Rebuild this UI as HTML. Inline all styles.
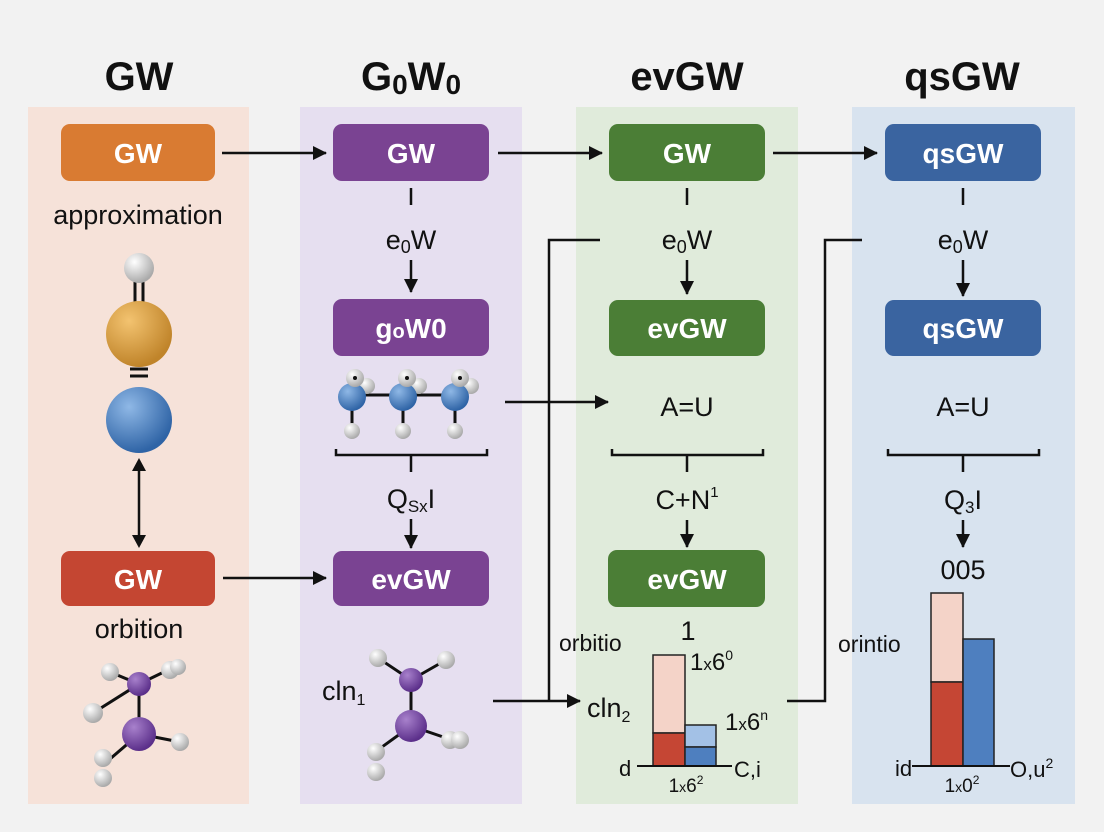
<!DOCTYPE html>
<html><head><meta charset="utf-8"><style>
body{margin:0;background:#f2f2f2}
svg{display:block;font-family:"Liberation Sans","DejaVu Sans",sans-serif}
.t{font-weight:bold;font-size:40px;fill:#111;text-anchor:middle}
.b{font-weight:bold;font-size:28px;fill:#fff;text-anchor:middle}
.l{font-size:27px;fill:#111;text-anchor:middle}
.s{font-size:22px;fill:#111}
</style></head><body>
<svg width="1104" height="832" viewBox="0 0 1104 832">
<defs>
<marker id="a" markerWidth="10" markerHeight="10" refX="9" refY="5" orient="auto" markerUnits="userSpaceOnUse"><path d="M0,0 L10,5 L0,10z" fill="#111"/><path d="M0,0 L0,0" /></marker>
<marker id="a2" markerWidth="14" markerHeight="14" refX="13" refY="7" orient="auto" markerUnits="userSpaceOnUse"><path d="M0,0 L14,7 L0,14z" fill="#111"/></marker>
<radialGradient id="gw" cx="35%" cy="30%" r="70%"><stop offset="0" stop-color="#fff"/><stop offset="1" stop-color="#aaa"/></radialGradient>
<radialGradient id="go" cx="35%" cy="30%" r="70%"><stop offset="0" stop-color="#f3c370"/><stop offset="1" stop-color="#c0842a"/></radialGradient>
<radialGradient id="gb" cx="35%" cy="30%" r="70%"><stop offset="0" stop-color="#8fb8e6"/><stop offset="1" stop-color="#2f64a6"/></radialGradient>
<radialGradient id="gp" cx="35%" cy="30%" r="70%"><stop offset="0" stop-color="#a881cc"/><stop offset="1" stop-color="#5b2f8a"/></radialGradient>
</defs>
<rect x="28" y="107" width="221" height="697" fill="#f6e2d9"/>
<rect x="300" y="107" width="222" height="697" fill="#e6dff0"/>
<rect x="576" y="107" width="222" height="697" fill="#e0ebdb"/>
<rect x="852" y="107" width="223" height="697" fill="#d8e3ef"/>
<text class="t" x="139" y="90">GW</text>
<text class="t" x="411" y="90">G<tspan font-size="28" dy="4">0</tspan><tspan dy="-4">W</tspan><tspan font-size="28" dy="4">0</tspan></text>
<text class="t" x="687" y="90">evGW</text>
<text class="t" x="962" y="90">qsGW</text>
<!-- top boxes -->
<rect x="61" y="124" width="154" height="57" rx="9" fill="#d97b32"/><text class="b" x="138" y="163">GW</text>
<rect x="333" y="124" width="156" height="57" rx="9" fill="#7a4392"/><text class="b" x="411" y="163">GW</text>
<rect x="609" y="124" width="156" height="57" rx="9" fill="#4b7e36"/><text class="b" x="687" y="163">GW</text>
<rect x="885" y="124" width="156" height="57" rx="9" fill="#3a64a0"/><text class="b" x="963" y="163">qsGW</text>
<g stroke="#111" stroke-width="2.5" fill="none">
<line x1="222" y1="153" x2="326" y2="153" marker-end="url(#a2)"/>
<line x1="498" y1="153" x2="602" y2="153" marker-end="url(#a2)"/>
<line x1="773" y1="153" x2="877" y2="153" marker-end="url(#a2)"/>
</g>
<text class="l" x="138" y="224">approximation</text>
<!-- col2 flow -->
<g stroke="#111" stroke-width="2.5" fill="none">
<line x1="411" y1="188" x2="411" y2="205"/><line x1="687" y1="188" x2="687" y2="205"/><line x1="963" y1="188" x2="963" y2="205"/>
<line x1="411" y1="260" x2="411" y2="292" marker-end="url(#a2)"/>
<line x1="687" y1="260" x2="687" y2="294" marker-end="url(#a2)"/>
<line x1="963" y1="260" x2="963" y2="296" marker-end="url(#a2)"/>
<path d="M336,449 v6 h151 v-6 M411,455 v17"/>
<path d="M612,449 v6 h151 v-6 M687,455 v17"/>
<path d="M888,449 v6 h151 v-6 M963,455 v17"/>
<line x1="411" y1="519" x2="411" y2="548" marker-end="url(#a2)"/>
<line x1="687" y1="520" x2="687" y2="547" marker-end="url(#a2)"/>
<line x1="963" y1="520" x2="963" y2="547" marker-end="url(#a2)"/>
<line x1="505" y1="402" x2="608" y2="402" marker-end="url(#a2)"/>
<line x1="223" y1="578" x2="326" y2="578" marker-end="url(#a2)"/>
<path d="M600,240 H549 V701"/>
<line x1="493" y1="701" x2="580" y2="701" marker-end="url(#a2)"/>
<path d="M862,240 H825 V701 H787"/>
<line x1="139" y1="467" x2="139" y2="545"/>
</g>
<path d="M139,458 l-7,13 h14z M139,548 l-7,-13 h14z" fill="#111"/>
<text class="l" x="411" y="249">e<tspan font-size="18" dy="4">0</tspan><tspan dy="-4">W</tspan></text>
<text class="l" x="687" y="249">e<tspan font-size="18" dy="4">0</tspan><tspan dy="-4">W</tspan></text>
<text class="l" x="963" y="249">e<tspan font-size="18" dy="4">0</tspan><tspan dy="-4">W</tspan></text>
<rect x="333" y="299" width="156" height="57" rx="9" fill="#7a4392"/><text class="b" x="411" y="338">g<tspan font-size="20">o</tspan>W0</text>
<rect x="609" y="300" width="156" height="56" rx="9" fill="#4b7e36"/><text class="b" x="687" y="338">evGW</text>
<rect x="885" y="300" width="156" height="56" rx="9" fill="#3a64a0"/><text class="b" x="963" y="338">qsGW</text>
<text class="l" x="687" y="416">A=U</text>
<text class="l" x="963" y="416">A=U</text>
<text class="l" x="411" y="508">Q<tspan font-size="17" dy="4">Sx</tspan><tspan dy="-4">I</tspan></text>
<text class="l" x="687" y="509">C+N<tspan font-size="15" dy="-12">1</tspan></text>
<text class="l" x="963" y="509">Q<tspan font-size="17" dy="4">3</tspan><tspan dy="-4">I</tspan></text>
<rect x="61" y="551" width="154" height="55" rx="9" fill="#c44632"/><text class="b" x="138" y="589">GW</text>
<rect x="333" y="551" width="156" height="55" rx="9" fill="#7a4392"/><text class="b" x="411" y="589">evGW</text>
<rect x="608" y="550" width="157" height="57" rx="9" fill="#4b7e36"/><text class="b" x="687" y="589">evGW</text>
<text class="l" x="139" y="638">orbition</text>
<!-- col1 molecule -->
<g stroke="#111" stroke-width="3"><line x1="135" y1="282" x2="135" y2="302"/><line x1="143" y1="282" x2="143" y2="302"/>
<line x1="130" y1="369" x2="148" y2="369"/><line x1="130" y1="376" x2="148" y2="376"/></g>
<circle cx="139" cy="268" r="15" fill="url(#gw)"/>
<circle cx="139" cy="334" r="33" fill="url(#go)"/>
<circle cx="139" cy="420" r="33" fill="url(#gb)"/>
<!-- col1 bottom molecule -->
<g stroke="#111" stroke-width="3"><line x1="110" y1="672" x2="139" y2="684"/><line x1="168" y1="670" x2="139" y2="684"/><line x1="93" y1="713" x2="139" y2="684"/><line x1="139" y1="684" x2="139" y2="734"/><line x1="139" y1="734" x2="103" y2="765"/><line x1="139" y1="734" x2="180" y2="742"/></g>
<circle cx="110" cy="672" r="9" fill="url(#gw)"/><circle cx="170" cy="670" r="9" fill="url(#gw)"/><circle cx="178" cy="667" r="8" fill="url(#gw)"/>
<circle cx="93" cy="713" r="10" fill="url(#gw)"/><circle cx="180" cy="742" r="9" fill="url(#gw)"/>
<circle cx="103" cy="758" r="9" fill="url(#gw)"/><circle cx="103" cy="778" r="9" fill="url(#gw)"/>
<circle cx="139" cy="684" r="12" fill="url(#gp)"/><circle cx="139" cy="734" r="17" fill="url(#gp)"/>
<!-- col2 chain molecule -->
<g stroke="#111" stroke-width="3"><line x1="352" y1="395" x2="455" y2="395"/><line x1="352" y1="395" x2="352" y2="431"/><line x1="403" y1="395" x2="403" y2="431"/><line x1="455" y1="395" x2="455" y2="431"/></g>
<g fill="url(#gw)"><circle cx="367" cy="386" r="8"/><circle cx="419" cy="386" r="8"/><circle cx="471" cy="386" r="8"/>
<circle cx="352" cy="431" r="8"/><circle cx="403" cy="431" r="8"/><circle cx="455" cy="431" r="8"/></g>
<g fill="url(#gb)"><circle cx="352" cy="397" r="14"/><circle cx="403" cy="397" r="14"/><circle cx="455" cy="397" r="14"/></g>
<g fill="url(#gw)"><circle cx="355" cy="378" r="9"/><circle cx="407" cy="378" r="9"/><circle cx="460" cy="378" r="9"/></g>
<g fill="#111"><circle cx="355" cy="378" r="2"/><circle cx="407" cy="378" r="2"/><circle cx="460" cy="378" r="2"/></g>
<!-- col2 bottom molecule -->
<text x="322" y="700" font-size="27" fill="#111">cln<tspan font-size="16" dy="5">1</tspan></text>
<g stroke="#111" stroke-width="3"><line x1="378" y1="658" x2="411" y2="680"/><line x1="446" y1="660" x2="411" y2="680"/><line x1="411" y1="680" x2="411" y2="726"/><line x1="411" y1="726" x2="375" y2="752"/><line x1="411" y1="726" x2="452" y2="740"/></g>
<g fill="url(#gw)"><circle cx="378" cy="658" r="9"/><circle cx="446" cy="660" r="9"/><circle cx="376" cy="752" r="9"/><circle cx="376" cy="772" r="9"/><circle cx="450" cy="740" r="9"/><circle cx="460" cy="740" r="9"/></g>
<circle cx="411" cy="680" r="12" fill="url(#gp)"/><circle cx="411" cy="726" r="16" fill="url(#gp)"/>
<!-- col3 chart -->
<text class="l" x="688" y="640">1</text>
<text x="559" y="651" font-size="23" fill="#111">orbitio</text>
<text x="690" y="670" font-size="24" fill="#111">1<tspan font-size="17">x</tspan>6<tspan font-size="14" dy="-10">0</tspan></text>
<text x="587" y="717" font-size="27" fill="#111">cln<tspan font-size="16" dy="5">2</tspan></text>
<text x="725" y="730" font-size="24" fill="#111">1<tspan font-size="17">x</tspan>6<tspan font-size="14" dy="-10">n</tspan></text>
<rect x="653" y="655" width="32" height="78" fill="#f4d3c8" stroke="#222" stroke-width="1.5"/>
<rect x="653" y="733" width="32" height="33" fill="#c54634" stroke="#222" stroke-width="1.5"/>
<rect x="685" y="725" width="31" height="22" fill="#a3c1e6" stroke="#222" stroke-width="1.5"/>
<rect x="685" y="747" width="31" height="19" fill="#4e7fbf" stroke="#222" stroke-width="1.5"/>
<line x1="637" y1="766" x2="732" y2="766" stroke="#111" stroke-width="2"/>
<text x="619" y="776" font-size="22" fill="#111">d</text>
<text x="734" y="777" font-size="22" fill="#111">C,i</text>
<text x="686" y="792" font-size="19" fill="#111" text-anchor="middle">1<tspan font-size="14">x</tspan>6<tspan font-size="12" dy="-8">2</tspan></text>
<!-- col4 chart -->
<text class="l" x="963" y="579" font-size="24">005</text>
<text x="838" y="652" font-size="23" fill="#111">orintio</text>
<rect x="931" y="593" width="32" height="89" fill="#f4d3c8" stroke="#222" stroke-width="1.5"/>
<rect x="931" y="682" width="32" height="84" fill="#c54634" stroke="#222" stroke-width="1.5"/>
<rect x="963" y="639" width="31" height="127" fill="#4e7fbf" stroke="#222" stroke-width="1.5"/>
<line x1="912" y1="766" x2="1010" y2="766" stroke="#111" stroke-width="2"/>
<text x="895" y="776" font-size="22" fill="#111">id</text>
<text x="1010" y="777" font-size="22" fill="#111">O,u<tspan font-size="14" dy="-9">2</tspan></text>
<text x="962" y="792" font-size="19" fill="#111" text-anchor="middle">1<tspan font-size="14">x</tspan>0<tspan font-size="12" dy="-8">2</tspan></text>
</svg>
</body></html>
